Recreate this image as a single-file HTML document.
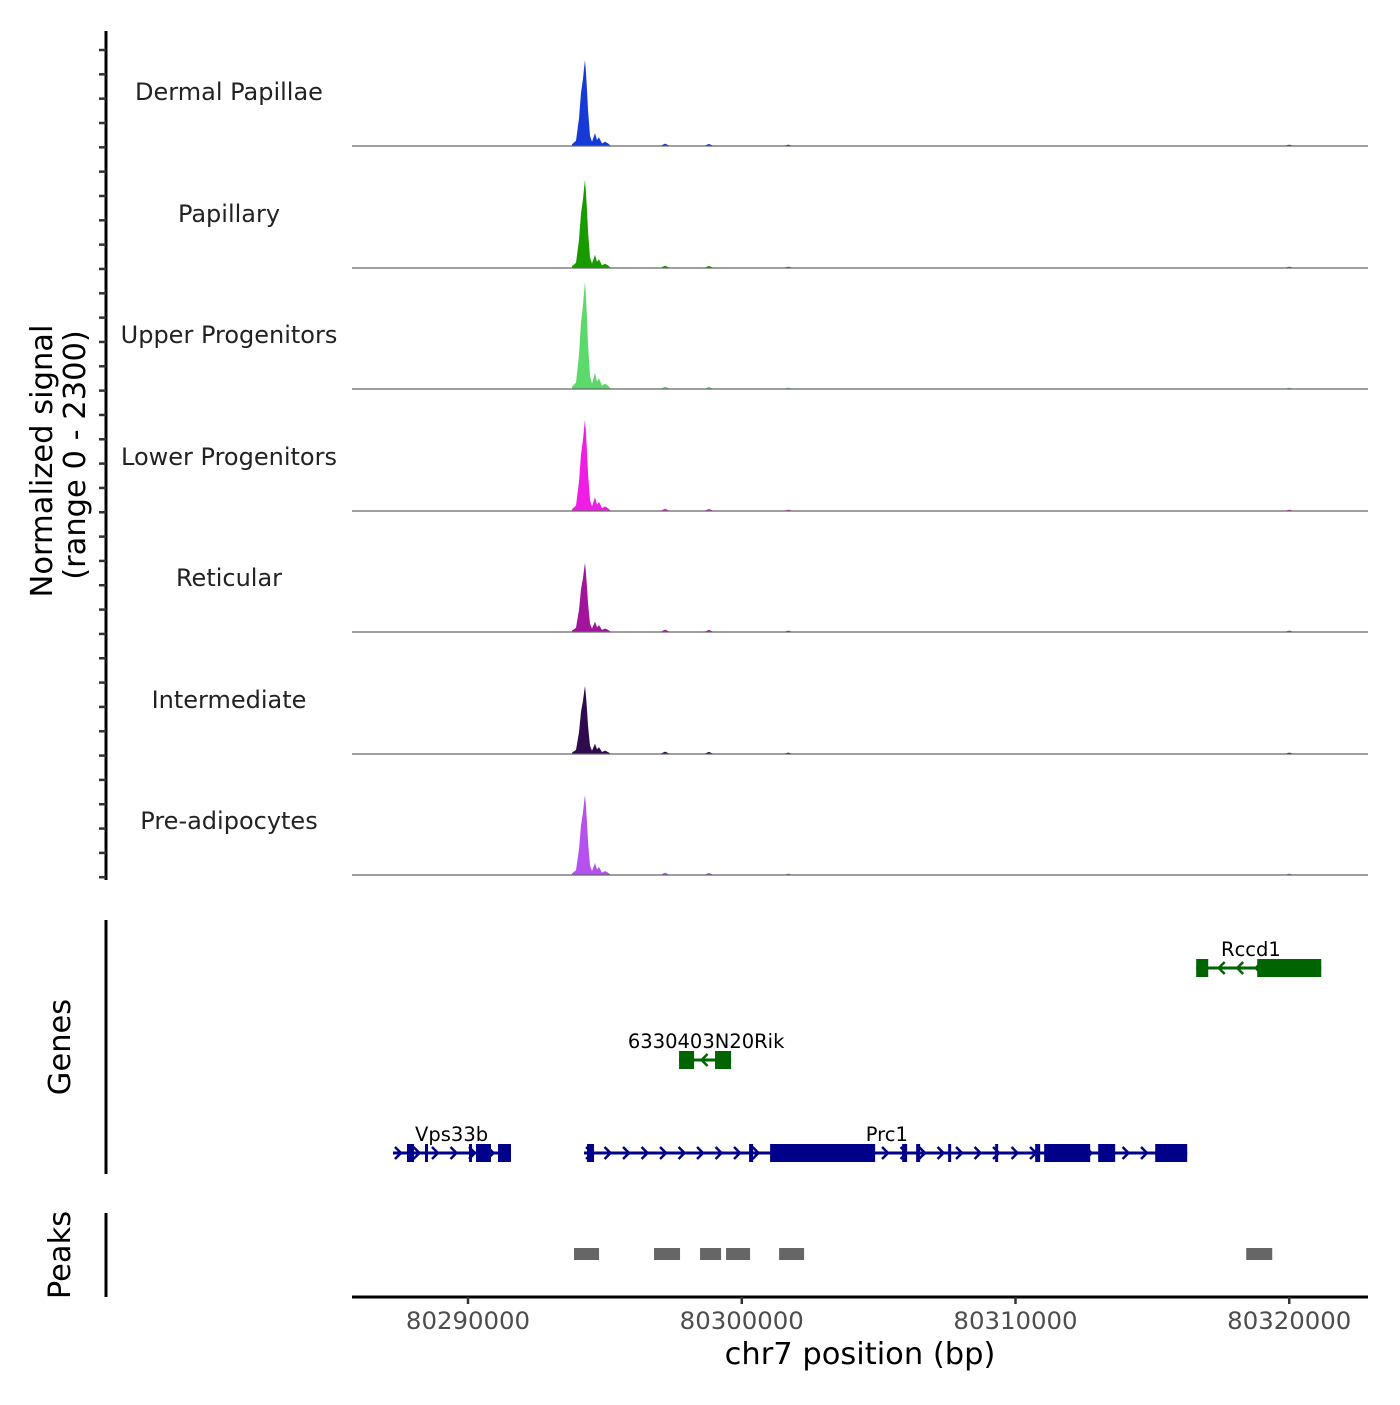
<!DOCTYPE html>
<html><head><meta charset="utf-8"><style>
body{margin:0;background:#fff;}
svg text{font-family:"DejaVu Sans","Liberation Sans",sans-serif;}
</style></head><body>
<svg id="chart" width="1400" height="1400" xmlns="http://www.w3.org/2000/svg"></svg>
<script>
// ---- data ----
const trackNames = ["Dermal Papillae","Papillary","Upper Progenitors","Lower Progenitors","Reticular","Intermediate","Pre-adipocytes"];
const trackColors = ["#1739d8","#199b00","#5bd96a","#f01de4","#a2149c","#2e0b4c","#b552ef"];
const trackPeakMax = [1630,1670,2030,1730,1310,1290,1520];
const profilePos = [80293800,80293946,80294056,80294129,80294202,80294238,80294275,80294311,80294348,80294384,80294457,80294530,80294640,80294713,80294786,80294896,80295005,80295115,80295225];
const profileShape = [0.02,0.06,0.32,0.62,0.78,0.9,1.0,0.85,0.65,0.42,0.12,0.05,0.15,0.07,0.1,0.03,0.05,0.03,0];
const minorPos = [80297200,80298800,80301700,80320000];
const minorVals = [45,40,25,25];
const xTicks = [80290000,80300000,80310000,80320000];
const genes = [
 {name:"Vps33b",strand:1,row:2,start:80287260,end:80291571,exons:[[80287771,80288027],[80288429,80288480],[80290037,80290146],[80290292,80290840],[80291096,80291571]],label:80289400},
 {name:"Prc1",strand:1,row:2,start:80294239,end:80316272,exons:[[80294348,80294604],[80300268,80300414],[80301035,80304872],[80305858,80306041],[80306370,80306516],[80307539,80307649],[80309256,80309366],[80310718,80310901],[80311047,80312728],[80313020,80313641],[80315103,80316272]],label:80305300},
 {name:"6330403N20Rik",strand:-1,row:1,start:80297710,end:80299610,exons:[[80297710,80298258],[80299025,80299610]],label:80298700},
 {name:"Rccd1",strand:-1,row:0,start:80316601,end:80321169,exons:[[80316601,80317040],[80318830,80321169]],label:80318600}
];
const peakStarts = [80293873,80296796,80298477,80299427,80301364,80318428];
const peakEnds = [80294787,80297746,80299245,80300304,80302277,80319378];
// ---- scales ----
const X0=352,X1=1368,BP0=80290000,PX0=468,PXPER=0.027375;
const xs = bp => PX0+(bp-BP0)*PXPER;
const baselines=[146,268,389,511,632,754,875], TH=121.5, YMAX=2300;
const ys = (i,v)=>baselines[i]-v/YMAX*TH;
const NS="http://www.w3.org/2000/svg";
const svg=document.getElementById('chart');
function mk(tag,attrs,parent){const e=document.createElementNS(NS,tag);for(const k in attrs)e.setAttribute(k,attrs[k]);(parent||svg).appendChild(e);return e;}
function txt(s,attrs,parent){const e=mk('text',attrs,parent);e.textContent=s;return e;}
let a=mk('line',{x1:106,y1:31,x2:106,y2:880,stroke:'#000','stroke-width':3});


for(let y=50;y<=878;y+=24.33){let t=mk('line',{x1:99,y1:y,x2:106,y2:y,stroke:'#333','stroke-width':2.5});

}
let yt=txt('Normalized signal',{x:0,y:0,'font-size':30.5,'text-anchor':'middle',transform:'translate(52,461) rotate(-90)'});


let yt2=txt('(range 0 - 2300)',{x:0,y:0,'font-size':30.5,'text-anchor':'middle',transform:'translate(85,455) rotate(-90)'});


trackNames.forEach((n,i)=>{
 const g=mk('g',{});
 
 
 let l=txt(n,{x:229,y:baselines[i]-46,'font-size':24,'text-anchor':'middle',fill:'#222'},g);
 
 
 let d='M'+xs(profilePos[0])+','+baselines[i];
 profilePos.forEach((p,k)=>{d+=' L'+xs(p).toFixed(1)+','+ys(i,profileShape[k]*trackPeakMax[i]).toFixed(1);});
 d+=' L'+xs(profilePos[profilePos.length-1])+','+baselines[i]+'Z';
 let pk=mk('path',{d:d,fill:trackColors[i]},g);
 
 
 minorPos.forEach((p,k)=>{const x=xs(p);let m=mk('path',{d:`M${x-5},${baselines[i]} L${x},${ys(i,minorVals[k])} L${x+5},${baselines[i]}Z`,fill:trackColors[i]},g);
 
 });
 let b=mk('line',{x1:X0,y1:baselines[i],x2:X1,y2:baselines[i],stroke:'#666','stroke-width':1.2},g);
 
 
});
let ga=mk('line',{x1:106,y1:920,x2:106,y2:1174,stroke:'#000','stroke-width':3});


let gt=txt('Genes',{x:0,y:0,'font-size':30.5,'text-anchor':'middle',transform:'translate(70,1047) rotate(-90)'});


const rowY=[968,1060,1153];
genes.forEach(gn=>{
 const g=mk('g',{});
 
 
 const col=gn.strand>0?'#00008b':'#006400', y=rowY[gn.row];
 mk('line',{x1:xs(gn.start),y1:y,x2:xs(gn.end),y2:y,stroke:col,'stroke-width':3},g);
 for(let x=xs(gn.start)+6;x<xs(gn.end)-4;x+=18.5){
  const s=gn.strand;
  mk('polyline',{points:`${x-4*s},${y-6} ${x+2*s},${y} ${x-4*s},${y+6}`,fill:'none',stroke:col,'stroke-width':2.5},g);
 }
 gn.exons.forEach(e=>{const x1=xs(e[0]),x2=xs(e[1]);let r=mk('rect',{x:x1,y:y-9,width:Math.max(x2-x1,3),height:18,fill:col},g);
 
 });
 let t=txt(gn.name,{x:xs(gn.label),y:y-12,'font-size':19.5,'text-anchor':'middle',fill:'#000'},g);
 
 
});
let pa=mk('line',{x1:106,y1:1213,x2:106,y2:1297,stroke:'#000','stroke-width':3});


let pt=txt('Peaks',{x:0,y:0,'font-size':30.5,'text-anchor':'middle',transform:'translate(70,1255) rotate(-90)'});


peakStarts.forEach((s,k)=>{let r=mk('rect',{x:xs(s),y:1248,width:xs(peakEnds[k])-xs(s),height:12,fill:'#666'});

});
let xa=mk('line',{x1:X0,y1:1297,x2:X1,y2:1297,stroke:'#000','stroke-width':3});


xTicks.forEach(v=>{const x=xs(v);
 let t=mk('line',{x1:x,y1:1297,x2:x,y2:1304,stroke:'#333','stroke-width':2.5});
 
 
 let l=txt(String(v),{x:x,y:1329,'font-size':24.4,'text-anchor':'middle',fill:'#4d4d4d'});
 
 });
let xt=txt('chr7 position (bp)',{x:860,y:1364,'font-size':30.5,'text-anchor':'middle'});


</script>
</body></html>
